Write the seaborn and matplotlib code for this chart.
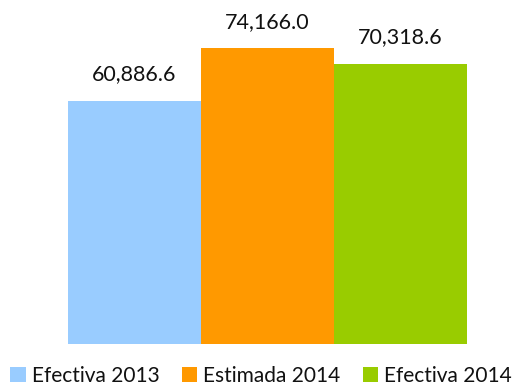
import matplotlib
matplotlib.use("Agg")
import matplotlib.pyplot as plt
import seaborn as sns
import pandas as pd

# Data
categorias = ["Efectiva 2013", "Estimada 2014", "Efectiva 2014"]
valores = [60886.6, 74166.0, 70318.6]
colores = ["#99CCFF", "#FF9900", "#99CC00"]

df = pd.DataFrame({"Categoria": categorias, "Valor": valores})

sns.set_style("white")
plt.rcParams["font.family"] = ["Lato", "DejaVu Sans"]

fig = plt.figure(figsize=(5.14, 3.87), dpi=100)
ax = fig.add_axes([68 / 514, 43 / 387, 399 / 514, 319 / 387])

sns.barplot(data=df, x="Categoria", y="Valor", hue="Categoria",
            palette=colores, width=1, saturation=1, legend=False,
            linewidth=0, ax=ax)

ax.set_ylim(0, 80000)
ax.set_xlim(-0.5, 2.5)
ax.set_xlabel("")
ax.set_ylabel("")
ax.set_xticks([])
ax.set_yticks([])
sns.despine(ax=ax, left=True, bottom=True)

for cont in ax.containers:
    ax.bar_label(cont, labels=[f"{v:,.1f}" for v in cont.datavalues],
                 padding=12, fontsize=15.5, color="#111111")

handles = [p for p in ax.patches]
fig.legend(handles, categorias, loc="lower center", bbox_to_anchor=(0.508, -0.045),
           ncol=3, frameon=False, fontsize=15, handlelength=0.75, handleheight=0.75,
           handletextpad=0.3, columnspacing=1.05, labelcolor="#111111")

fig.savefig("out.png", dpi=100)
